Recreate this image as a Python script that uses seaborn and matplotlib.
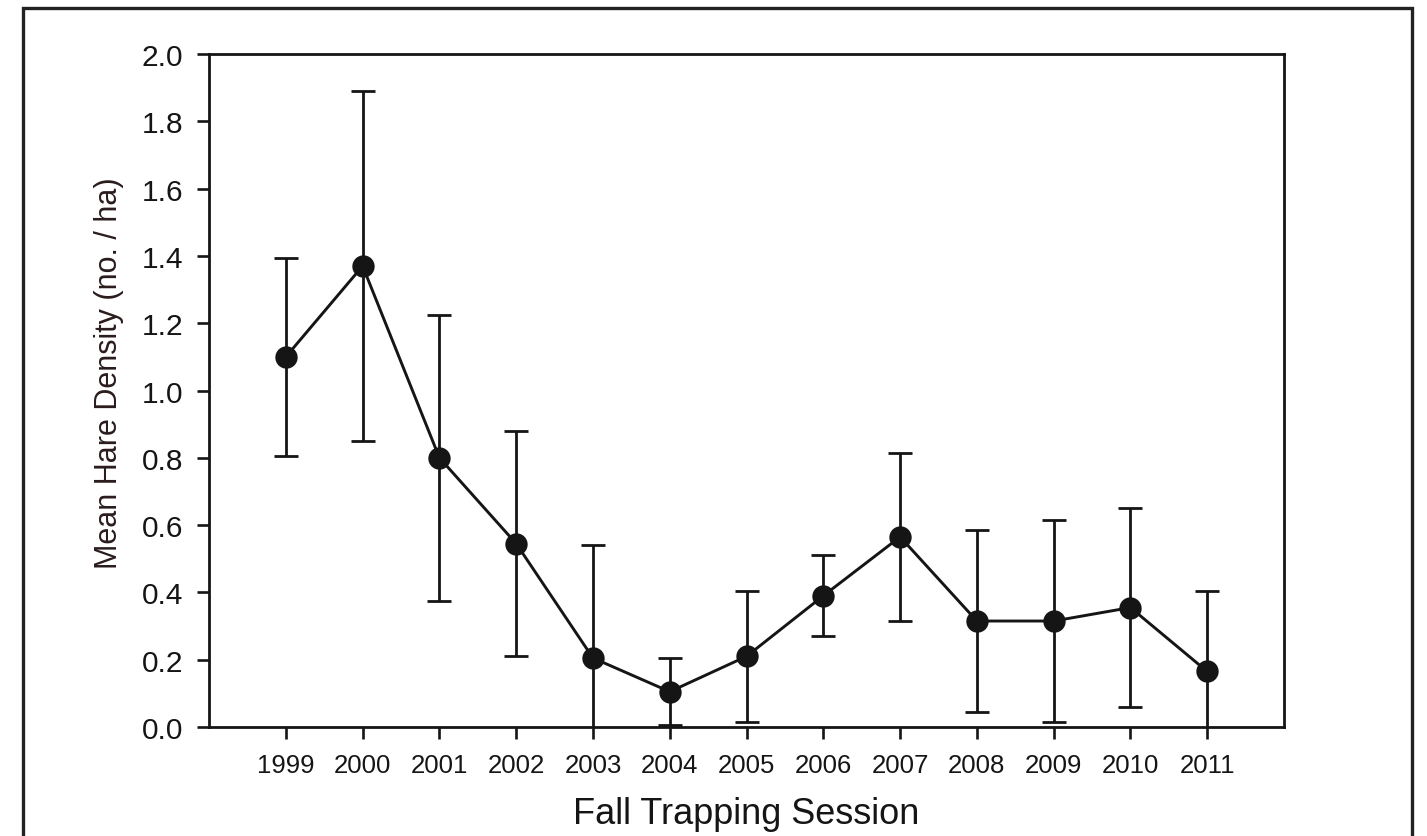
import seaborn as sns
import matplotlib.pyplot as plt
import pandas as pd
import numpy as np
from matplotlib.patches import Rectangle

# data
years = ["1999", "2000", "2001", "2002", "2003", "2004", "2005",
         "2006", "2007", "2008", "2009", "2010", "2011"]
density = [1.10, 1.37, 0.80, 0.545, 0.205, 0.105, 0.21,
           0.39, 0.565, 0.315, 0.315, 0.355, 0.165]
err = [0.295, 0.52, 0.425, 0.335, 0.335, 0.10, 0.195,
       0.12, 0.25, 0.27, 0.30, 0.295, 0.24]

df = pd.DataFrame({"Session": years, "Density": density, "Err": err})

sns.set_style("ticks")
plt.rcParams["font.family"] = ["Liberation Sans", "DejaVu Sans"]
ink = "#151515"

fig = plt.figure(figsize=(14.27, 8.37), dpi=100)
ax = fig.add_axes([0.1465, 0.1302, 0.7533, 0.8041])

# outer frame around the figure (bottom edge cut off)
fig.patches.append(Rectangle((23 / 1427, -0.05), (1412 - 23) / 1427, 1.05 - 9 / 837,
                             transform=fig.transFigure, fill=False,
                             edgecolor="#222222", linewidth=2.4))

xpos = np.arange(len(years))
ax.errorbar(xpos, df["Density"], yerr=df["Err"], fmt="none", ecolor=ink,
            elinewidth=2.0, capsize=8.5, capthick=2.0, zorder=2)
sns.pointplot(data=df, x="Session", y="Density", ax=ax, color=ink,
              errorbar=None, markers="o", markersize=14.5, linewidth=2.1,
              zorder=3)

ax.set_xlim(-1, 13)
ax.set_ylim(0, 2.0)
ax.set_yticks(np.arange(0, 2.01, 0.2))
ax.set_yticklabels([f"{v:.1f}" for v in np.arange(0, 2.01, 0.2)])

for s in ax.spines.values():
    s.set_visible(True)
    s.set_linewidth(2.0)
    s.set_color(ink)
ax.tick_params(axis="both", direction="out", length=8.5, width=1.9,
               colors=ink)
ax.tick_params(axis="x", labelsize=18.5, pad=10)
ax.tick_params(axis="y", labelsize=21.5, pad=10)

ax.set_xlabel("Fall Trapping Session", fontsize=26, color=ink, labelpad=14)
ax.set_ylabel("Mean Hare Density (no. / ha)", fontsize=22, color="#2a1c1c")
ax.yaxis.set_label_coords(-0.079, 0.527)

fig.savefig("out.png", dpi=100)
